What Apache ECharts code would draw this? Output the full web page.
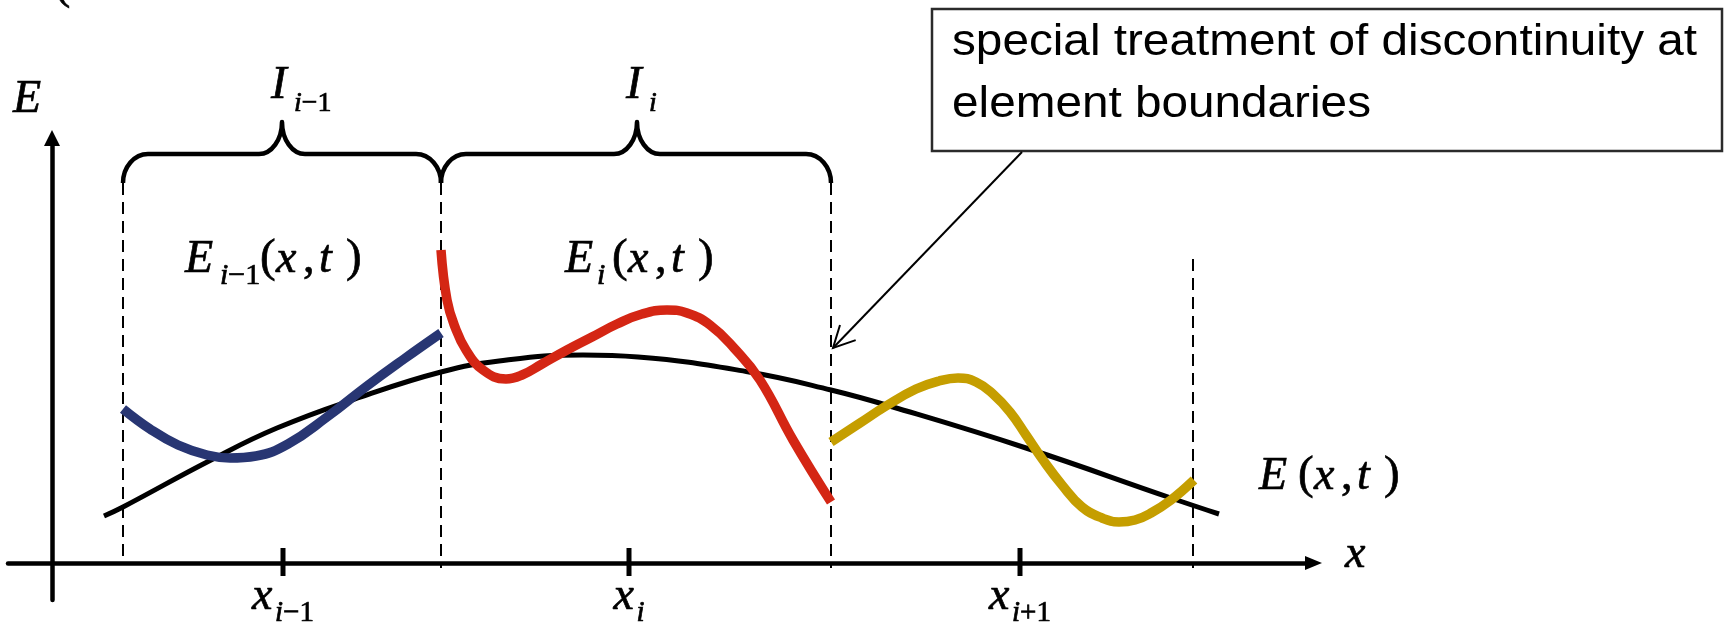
<!DOCTYPE html>
<html>
<head>
<meta charset="utf-8">
<script src="https://cdn.jsdelivr.net/npm/echarts@6/dist/echarts.min.js"></script>
<style>
  html, body { margin: 0; padding: 0; background: #ffffff; }
  #chart { width: 1730px; height: 627px; }
</style>
</head>
<body>
<div id="chart"></div>
<script>
// ---- element layout along x (diagram units) ----
const boundaries     = [7.1, 38.9, 77.9, 114.1];
const boundaryTop    = [38.0, 38.0, 38.0, 30.4];
const boundaryBottom = [0.6, -0.5, -0.5, -0.5];

const nodes          = [23.1, 57.7, 96.8];
const nodeSubscripts = ['i−1', 'i', 'i+1'];

// intervals I: [from, to, apex]
const intervals          = [[7.1, 38.9, 23.0], [38.9, 77.9, 58.5]];
const intervalSubscripts = ['i−1', 'i'];
const braceFoot = 38.0, braceBar = 40.9, braceApex = 44.1;

// ---- field values ----
const exactField = [
  [5.2, 4.7], [7.1, 5.6], [15.9, 10.3], [22.5, 13.5], [30.9, 16.6], [38.9, 19.1],
  [44.7, 20.2], [53.1, 20.8], [58.6, 20.6], [69.7, 19.1], [77.9, 17.3], [84.1, 15.6],
  [97.4, 11.5], [111.9, 6.5], [116.7, 4.9]
];
const elemPrev = [
  [7.1, 15.4], [9.8, 13.4], [12.6, 11.8], [15.5, 10.8], [17.8, 10.5], [20.4, 10.7],
  [23.6, 11.9], [27.5, 14.6], [31.5, 17.7], [35.2, 20.4], [38.9, 23.0]
];
const elemCur = [
  [38.9, 31.3], [39.5, 26.3], [40.3, 23.6], [41.4, 21.3], [43.1, 19.3], [45.4, 18.4],
  [47.0, 18.8], [49.0, 19.9], [51.5, 21.3], [54.0, 22.6], [56.5, 23.9], [59.0, 24.9],
  [61.5, 25.3], [63.5, 25.0], [65.8, 23.8], [68.2, 21.5], [70.8, 18.3], [74.1, 12.3],
  [77.9, 6.1]
];
const elemNext = [
  [77.9, 12.1], [80.8, 14.0], [83.4, 15.7], [86.4, 17.4], [88.7, 18.2], [90.6, 18.5],
  [92.4, 18.1], [94.1, 16.9], [95.8, 15.1], [97.4, 12.8], [99.1, 10.3], [101.0, 7.8],
  [103.0, 5.6], [105.0, 4.5], [106.7, 4.1], [108.3, 4.3], [109.9, 5.0], [111.9, 6.3],
  [114.2, 8.3]
];

// callout arrow: [fromX, fromY, toX, toY]
const calloutArrow = [[97.0, 41.1, 78.1, 21.5]];
const calloutLines = ['special treatment of discontinuity at', 'element boundaries'];

// ---- typography helpers ----
const SERIF = 'Liberation Serif';
const SANS  = 'Liberation Sans';
const measureCtx = document.createElement('canvas').getContext('2d');

function widthOf(t, size, italic, family) {
  measureCtx.font = (italic ? 'italic ' : '') + size + 'px "' + (family || SERIF) + '"';
  return measureCtx.measureText(t).width;
}
// text element placed by left edge and alphabetic baseline
function glyph(t, x, base, size, italic, family) {
  const fam = family || SERIF;
  const mid = fam === SANS ? 0.3465 : 0.3375;
  const style = {
    text: t, fontFamily: fam, fontSize: size, fontStyle: italic ? 'italic' : 'normal',
    fill: '#000000', align: 'left', verticalAlign: 'middle'
  };
  if (fam === SERIF) { style.stroke = '#000000'; style.lineWidth = 0.7; }
  return { type: 'text', x: x, y: base - mid * size, silent: true, style: style };
}
// split into italic letters and upright symbols, laid out one after another
function mathRun(str, x, base, size) {
  const runs = [];
  for (const ch of str) {
    const it = /[a-zA-Z]/.test(ch);
    if (runs.length && runs[runs.length - 1].it === it) runs[runs.length - 1].t += ch;
    else runs.push({ t: ch, it: it });
  }
  const out = [];
  let cx = x;
  runs.forEach(r => {
    out.push(glyph(r.t, cx, base, size, r.it));
    cx += widthOf(r.t, size, r.it);
  });
  return out;
}
function runWidth(str, size) {
  let w = 0;
  for (const ch of str) w += widthOf(ch, size, /[a-zA-Z]/.test(ch));
  return w;
}
// E_sub(x,t)
function fieldLabel(left, base, sub, subDx, parenDx) {
  const els = [glyph('E', left, base, 46, true)];
  if (sub) els.push(...mathRun(sub, left + subDx, base + 11, 30));
  const p = left + parenDx;
  els.push(glyph('(', p, base, 47, false));
  els.push(glyph('x', p + 16, base, 46, true));
  els.push(glyph(',', p + 43, base, 46, false));
  els.push(glyph('t', p + 59, base, 46, true));
  els.push(glyph(')', p + 86, base, 47, false));
  return els;
}

const chart = echarts.init(document.getElementById('chart'), null, { renderer: 'canvas' });

const option = {
  animation: false,
  backgroundColor: '#ffffff',
  grid: { left: 8, right: 416.5, top: 138, bottom: 27 },
  xAxis: {
    type: 'value', min: -4.4, max: 126.15,
    axisLine: {
      show: true, onZero: true,
      symbol: ['none', 'triangle'], symbolSize: [14, 17],
      lineStyle: { color: '#000000', width: 4.5 }
    },
    axisTick: { show: false }, axisLabel: { show: false }, splitLine: { show: false }
  },
  yAxis: {
    type: 'value', min: -3.7, max: 42.5,
    axisLine: {
      show: true, onZero: true,
      symbol: ['none', 'triangle'], symbolSize: [16, 16],
      lineStyle: { color: '#000000', width: 4.5 }
    },
    axisTick: { show: false }, axisLabel: { show: false }, splitLine: { show: false }
  },
  series: [
    {
      // element boundaries
      type: 'custom', name: 'boundaries', clip: false, silent: true, z: 2,
      data: boundaries.map((x, i) => [x, boundaryTop[i], boundaryBottom[i]]),
      renderItem: function (params, api) {
        const a = api.coord([api.value(0), api.value(1)]);
        const b = api.coord([api.value(0), api.value(2)]);
        return {
          type: 'line',
          shape: { x1: a[0], y1: a[1], x2: b[0], y2: b[1] },
          style: { stroke: '#000000', lineWidth: 2, lineDash: [12, 7] }
        };
      }
    },
    {
      // interval braces with labels
      type: 'custom', name: 'intervals', clip: false, silent: true, z: 2,
      data: intervals,
      renderItem: function (params, api) {
        const x0 = api.coord([api.value(0), braceBar])[0];
        const x1 = api.coord([api.value(1), braceBar])[0];
        const xa = api.coord([api.value(2), braceBar])[0];
        const yF = api.coord([0, braceFoot])[1];
        const yB = api.coord([0, braceBar])[1];
        const yA = api.coord([0, braceApex])[1];
        const w = 25, wa = 23, h = yF - yB, ha = yB - yA;
        const d = [
          'M', x0, yF,
          'C', x0, yF - 0.55 * h, x0 + 0.45 * w, yB, x0 + w, yB,
          'L', xa - wa, yB,
          'C', xa - 0.45 * wa, yB, xa, yB - 0.45 * ha, xa, yA,
          'C', xa, yB - 0.45 * ha, xa + 0.45 * wa, yB, xa + wa, yB,
          'L', x1 - w, yB,
          'C', x1 - 0.45 * w, yB, x1, yF - 0.55 * h, x1, yF
        ].join(' ');
        const sub = intervalSubscripts[params.dataIndex];
        const left = xa - 11, base = yA - 20;
        const children = [{
          type: 'path', shape: { pathData: d },
          style: { fill: 'none', stroke: '#000000', lineWidth: 4.5, lineJoin: 'round' }
        }, glyph('I', left, base, 47, true)];
        children.push(...mathRun(sub, left + 23, base + 11, 28));
        return { type: 'group', children: children };
      }
    },
    {
      // node ticks with labels
      type: 'custom', name: 'nodes', clip: false, silent: true, z: 4,
      data: nodes.map(x => [x, 0]),
      renderItem: function (params, api) {
        const p = api.coord([api.value(0), 0]);
        const sub = nodeSubscripts[params.dataIndex];
        const total = 23 + runWidth(sub, 29);
        const left = p[0] - total / 2;
        const base = p[1] + 49;
        const children = [{
          type: 'line',
          shape: { x1: p[0], y1: p[1] - 15, x2: p[0], y2: p[1] + 13 },
          style: { stroke: '#000000', lineWidth: 5 }
        }, glyph('x', left, base, 46, true)];
        children.push(...mathRun(sub, left + 23, base + 11, 29));
        return { type: 'group', children: children };
      }
    },
    {
      name: 'E(x,t)', type: 'line', data: exactField, smooth: 0.45, symbol: 'none',
      clip: false, silent: true, z: 3,
      lineStyle: { color: '#000000', width: 5 }
    },
    {
      name: 'E_{i-1}(x,t)', type: 'line', data: elemPrev, smooth: 0.45, symbol: 'none',
      clip: false, silent: true, z: 3,
      lineStyle: { color: '#283673', width: 9.5 }
    },
    {
      name: 'E_i(x,t)', type: 'line', data: elemCur, smooth: 0.45, symbol: 'none',
      clip: false, silent: true, z: 3,
      lineStyle: { color: '#d42614', width: 9.5 }
    },
    {
      name: 'E_{i+1}(x,t)', type: 'line', data: elemNext, smooth: 0.45, symbol: 'none',
      clip: false, silent: true, z: 3,
      lineStyle: { color: '#c59e00', width: 9.5 }
    },
    {
      // callout arrow pointing at the boundary
      type: 'custom', name: 'callout', clip: false, silent: true, z: 5,
      data: calloutArrow,
      renderItem: function (params, api) {
        const s = api.coord([api.value(0), api.value(1)]);
        const t = api.coord([api.value(2), api.value(3)]);
        const dx = s[0] - t[0], dy = s[1] - t[1];
        const len = Math.sqrt(dx * dx + dy * dy);
        const ux = dx / len, uy = dy / len;
        const L = 24, th = 27 * Math.PI / 180;
        const rot = (a) => [t[0] + L * (ux * Math.cos(a) - uy * Math.sin(a)),
                            t[1] + L * (ux * Math.sin(a) + uy * Math.cos(a))];
        const h1 = rot(th), h2 = rot(-th);
        const st = { stroke: '#000000', lineWidth: 2, fill: 'none' };
        return {
          type: 'group',
          children: [
            { type: 'line', shape: { x1: s[0], y1: s[1], x2: t[0], y2: t[1] }, style: st },
            { type: 'polyline', shape: { points: [h1, t, h2] }, style: st }
          ]
        };
      }
    }
  ],
  graphic: [
    // fragment of a formula cut off at the top edge
    glyph('(', 55, 1, 46, false),
    // axis names
    glyph('E', 13, 115, 46, true),
    glyph('x', 1345, 570, 46, true),
    // field labels
    ...fieldLabel(185, 275, 'i−1', 35, 75),
    ...fieldLabel(565, 275, 'i', 32, 47),
    ...fieldLabel(1259, 492, null, 0, 39),
    // callout box
    {
      type: 'rect', silent: true,
      shape: { x: 932, y: 9, width: 790, height: 142 },
      style: { fill: '#ffffff', stroke: '#2b2b2b', lineWidth: 2.5 }
    },
    Object.assign(glyph(calloutLines[0], 952, 58, 45, false, SANS), { scaleX: 1.06 }),
    Object.assign(glyph(calloutLines[1], 952, 120, 45, false, SANS), { scaleX: 1.06 })
  ]
};

chart.setOption(option);
</script>
</body>
</html>
